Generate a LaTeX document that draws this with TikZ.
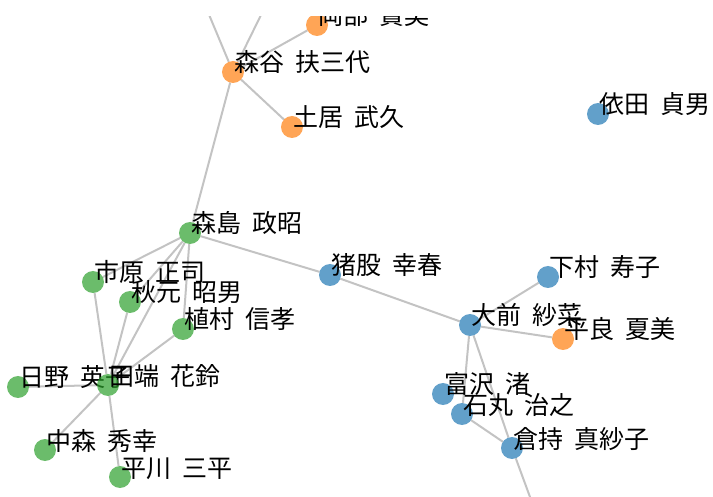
\documentclass[tikz,border=0pt]{standalone}
\usepackage{fontspec}
\setmainfont[WordSpace=2.1]{Noto Sans CJK JP}
\usepackage{xcolor}
\usetikzlibrary{backgrounds}

\definecolor{linkgray}{RGB}{195,195,195}
\definecolor{cblue}{RGB}{31,119,180}
\definecolor{corange}{RGB}{255,127,14}
\definecolor{cgreen}{RGB}{44,160,44}

\tikzset{
  person/.style={circle, minimum size=22pt, inner sep=0pt, outer sep=0pt, fill opacity=0.7},
  pblue/.style={person, fill=cblue},
  porange/.style={person, fill=corange},
  pgreen/.style={person, fill=cgreen},
  lbl/.style={anchor=base west, xshift=-10pt, inner sep=0pt, text=black, fill opacity=1, text opacity=1},
  link/.style={draw=linkgray, line width=2pt}
}

\begin{document}
\begin{tikzpicture}[x=1pt, y=-1pt, font=\fontsize{25}{30}\selectfont]
  \useasboundingbox (0,0) rectangle (713,497);
  \begin{scope}
    \clip (0,16.5) rectangle (713,497);

    % people
    \node[porange, label={[lbl]0:岡部 貴美}] (okabe) at (317,25) {};
    \node[porange, label={[lbl]0:森谷 扶三代}] (moritani) at (233,72) {};
    \node[porange, label={[lbl]0:土居 武久}] (doi) at (292,127) {};
    \node[pblue, label={[lbl]0:依田 貞男}] (yoda) at (598,114) {};
    \node[pgreen, label={[lbl]0:森島 政昭}] (morishima) at (190,233) {};
    \node[pblue, label={[lbl]0:猪股 幸春}] (inomata) at (330,275) {};
    \node[pgreen, label={[lbl]0:市原 正司}] (ichihara) at (93,282) {};
    \node[pgreen, label={[lbl]0:秋元 昭男}] (akimoto) at (130,302) {};
    \node[pgreen, label={[lbl]0:植村 信孝}] (uemura) at (183,329) {};
    \node[pgreen, label={[lbl]0:日野 英子}] (hino) at (18,387) {};
    \node[pgreen, label={[lbl]0:田端 花鈴}] (tabata) at (108,385) {};
    \node[pgreen, label={[lbl]0:中森 秀幸}] (nakamori) at (45,450) {};
    \node[pgreen, label={[lbl]0:平川 三平}] (hirakawa) at (120,477) {};
    \node[pblue, label={[lbl]0:下村 寿子}] (shimomura) at (548,277) {};
    \node[pblue, label={[lbl]0:大前 紗菜}] (omae) at (470,325) {};
    \node[porange, label={[lbl]0:平良 夏美}] (taira) at (563,339) {};
    \node[pblue, label={[lbl]0:富沢 渚}] (tomizawa) at (443,394) {};
    \node[pblue, label={[lbl]0:石丸 治之}] (ishimaru) at (462,414) {};
    \node[pblue, label={[lbl]0:倉持 真紗子}] (kuramochi) at (512,448) {};

    % ends of links that leave the picture
    \coordinate (outleft) at (187,-38);
    \coordinate (outright) at (287,-38);
    \coordinate (outdown) at (548,546);
  \end{scope}

  % links
  \begin{scope}[on background layer]
    \clip (0,16.5) rectangle (713,497);
    \draw[link] (moritani) -- (outleft);
    \draw[link] (moritani) -- (outright);
    \draw[link] (moritani) -- (okabe);
    \draw[link] (moritani) -- (doi);
    \draw[link] (moritani) -- (morishima);
    \draw[link] (morishima) -- (inomata);
    \draw[link] (morishima) -- (ichihara);
    \draw[link] (morishima) -- (akimoto);
    \draw[link] (morishima) -- (uemura);
    \draw[link] (morishima) -- (tabata);
    \draw[link] (tabata) -- (ichihara);
    \draw[link] (tabata) -- (akimoto);
    \draw[link] (tabata) -- (uemura);
    \draw[link] (tabata) -- (hino);
    \draw[link] (tabata) -- (nakamori);
    \draw[link] (tabata) -- (hirakawa);
    \draw[link] (inomata) -- (omae);
    \draw[link] (omae) -- (shimomura);
    \draw[link] (omae) -- (taira);
    \draw[link] (omae) -- (ishimaru);
    \draw[link] (omae) -- (kuramochi);
    \draw[link] (ishimaru) -- (kuramochi);
    \draw[link] (kuramochi) -- (outdown);
  \end{scope}
\end{tikzpicture}
\end{document}
